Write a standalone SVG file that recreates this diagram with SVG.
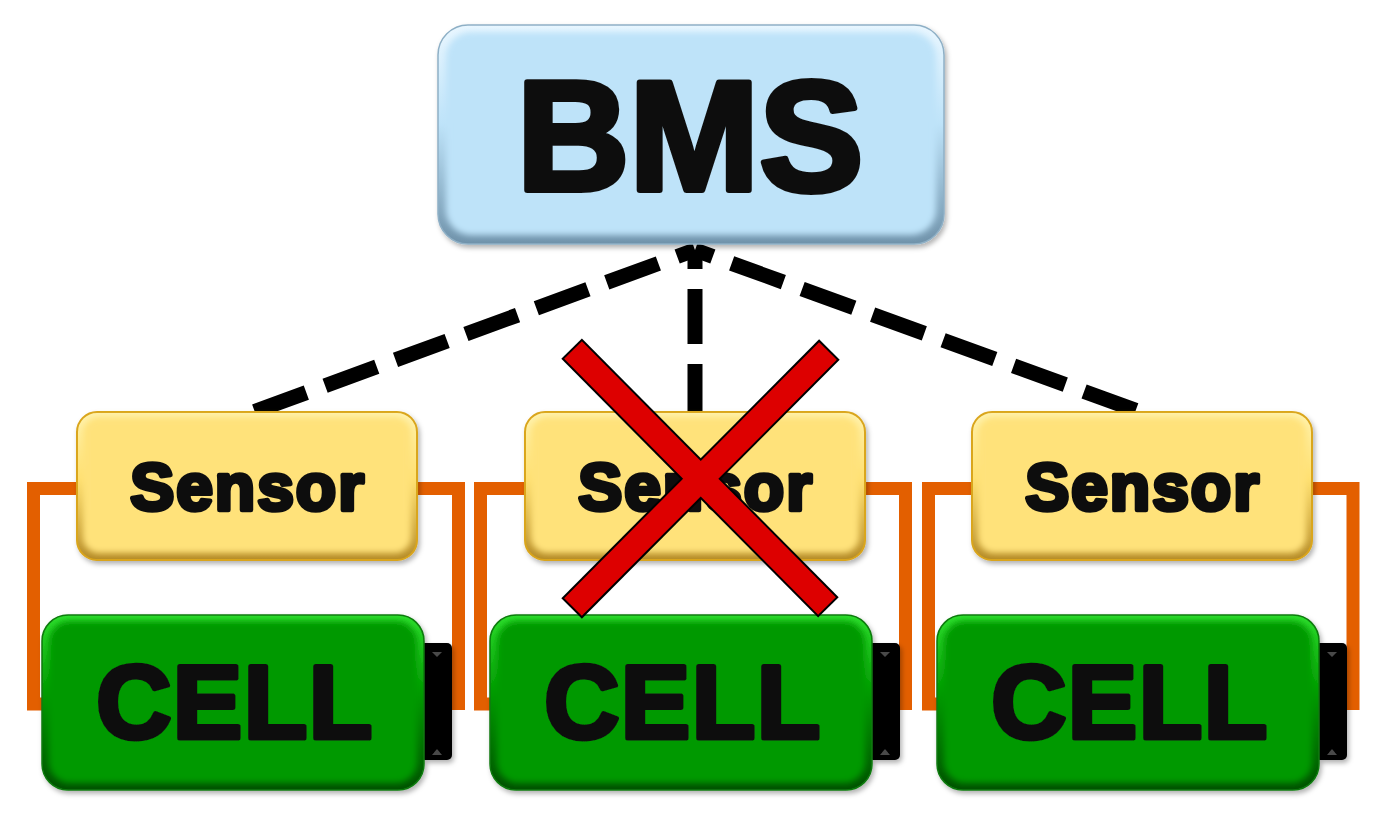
<svg xmlns="http://www.w3.org/2000/svg" width="1389" height="824" viewBox="0 0 1389 824">
  <defs>
    <linearGradient id="gBms" x1="0" y1="0" x2="0" y2="1">
      <stop offset="0" stop-color="#EAF7FF"/>
      <stop offset="0.45" stop-color="#BEE3F9"/>
      <stop offset="1" stop-color="#6F92AA"/>
    </linearGradient>
    <linearGradient id="gSen" x1="0" y1="0" x2="0" y2="1">
      <stop offset="0" stop-color="#FFF3B0"/>
      <stop offset="0.45" stop-color="#FFE070"/>
      <stop offset="1" stop-color="#B48A26"/>
    </linearGradient>
    <linearGradient id="gCell" x1="0" y1="0" x2="0" y2="1">
      <stop offset="0" stop-color="#2EE02E"/>
      <stop offset="0.45" stop-color="#009A00"/>
      <stop offset="1" stop-color="#005000"/>
    </linearGradient>
    <filter id="soft" x="-10%" y="-10%" width="120%" height="120%">
      <feGaussianBlur stdDeviation="3"/>
    </filter>
    <filter id="shadow" x="-10%" y="-10%" width="120%" height="130%">
      <feDropShadow dx="2" dy="3" stdDeviation="2.5" flood-color="#000" flood-opacity="0.3"/>
    </filter>
    <style>
      .bmsBase { fill: url(#gBms); stroke: #8FB0C6; stroke-width: 1.5; }
      .bmsIn { fill: #BEE3F9; filter: url(#soft); }
      .senBase { fill: url(#gSen); stroke: #D9A41A; stroke-width: 2; }
      .senIn { fill: #FFE27A; filter: url(#soft); }
      .cellBase { fill: url(#gCell); stroke: #0B7A0B; stroke-width: 1.5; }
      .cellIn { fill: #009900; filter: url(#soft); }
      .term { fill: #000; }
      .termMark { fill: #4A4A4A; }
      .lbl { font-family: "Liberation Sans", Arial, sans-serif; font-weight: bold; fill: #111; stroke: #111; stroke-linejoin: round; text-anchor: middle; }
      .bmsT { font-size: 156px; stroke-width: 6; }
      .senT { font-size: 66px; stroke-width: 4.5; letter-spacing: 2px; }
      .cellT { font-size: 104px; stroke-width: 5; letter-spacing: 1.5px; }
      .dash { fill: none; stroke: #000; stroke-width: 15; stroke-dasharray: 55 20; stroke-dashoffset: 36; }
      .wire { fill: none; stroke: #E35F00; stroke-width: 13; stroke-linejoin: miter; }
      .xOut { stroke: #000; stroke-width: 29; }
      .xIn { stroke: #DD0000; stroke-width: 25; }
    </style>
  </defs>

  <rect width="1389" height="824" fill="#FFFFFF"/>

  <g id="connectors">
    <line class="dash" x1="695" y1="250" x2="248" y2="414"/>
    <line class="dash" x1="695" y1="250" x2="695" y2="414"/>
    <line class="dash" x1="695" y1="250" x2="1146" y2="414"/>
    <path class="wire" d="M77,488.5 H33.5 V704 H44"/>
    <path class="wire" d="M417,488.5 H458.5 V710"/>
    <path class="wire" d="M525,488.5 H480.5 V704 H492"/>
    <path class="wire" d="M864,488.5 H905.5 V710"/>
    <path class="wire" d="M972,488.5 H928.5 V704 H939"/>
    <path class="wire" d="M1312,488.5 H1353 V710"/>
  </g>

  <g id="bms" filter="url(#shadow)">
    <rect class="bmsBase" x="438" y="25" width="506" height="219" rx="30"/>
    <rect class="bmsIn" x="446" y="32" width="490" height="203" rx="25"/>
    <text class="lbl bmsT" x="690" y="190">BMS</text>
  </g>

  <g id="sensor1" filter="url(#shadow)">
    <rect class="senBase" x="77" y="412" width="340" height="148" rx="20"/>
    <rect class="senIn" x="83" y="417" width="328" height="136" rx="16"/>
    <text class="lbl senT" x="248" y="510">Sensor</text>
  </g>
  <g id="sensor2" filter="url(#shadow)">
    <rect class="senBase" x="525" y="412" width="340" height="148" rx="20"/>
    <rect class="senIn" x="531" y="417" width="328" height="136" rx="16"/>
    <text class="lbl senT" x="696" y="510">Sensor</text>
  </g>
  <g id="sensor3" filter="url(#shadow)">
    <rect class="senBase" x="972" y="412" width="340" height="148" rx="20"/>
    <rect class="senIn" x="978" y="417" width="328" height="136" rx="16"/>
    <text class="lbl senT" x="1143" y="510">Sensor</text>
  </g>

  <g id="cell1" filter="url(#shadow)">
    <rect class="term" x="420" y="643" width="32" height="117" rx="5"/>
    <polygon class="termMark" points="432,652 442,652 437,657"/>
    <polygon class="termMark" points="432,755 442,755 437,749"/>
    <rect class="cellBase" x="42" y="615" width="382" height="175" rx="26"/>
    <rect class="cellIn" x="49" y="621" width="368" height="162" rx="21"/>
    <text class="lbl cellT" x="235" y="738">CELL</text>
  </g>
  <g id="cell2" filter="url(#shadow)">
    <rect class="term" x="868" y="643" width="32" height="117" rx="5"/>
    <polygon class="termMark" points="880,652 890,652 885,657"/>
    <polygon class="termMark" points="880,755 890,755 885,749"/>
    <rect class="cellBase" x="490" y="615" width="382" height="175" rx="26"/>
    <rect class="cellIn" x="497" y="621" width="368" height="162" rx="21"/>
    <text class="lbl cellT" x="683" y="738">CELL</text>
  </g>
  <g id="cell3" filter="url(#shadow)">
    <rect class="term" x="1315" y="643" width="32" height="117" rx="5"/>
    <polygon class="termMark" points="1327,652 1337,652 1332,657"/>
    <polygon class="termMark" points="1327,755 1337,755 1332,749"/>
    <rect class="cellBase" x="937" y="615" width="382" height="175" rx="26"/>
    <rect class="cellIn" x="944" y="621" width="368" height="162" rx="21"/>
    <text class="lbl cellT" x="1130" y="738">CELL</text>
  </g>

  <g id="cross">
    <line class="xOut" x1="571.6" y1="348.6" x2="828.4" y2="607.4"/>
    <line class="xOut" x1="829.4" y1="349.6" x2="571.6" y2="608.4"/>
    <line class="xIn" x1="573" y1="350" x2="827" y2="606"/>
    <line class="xIn" x1="828" y1="351" x2="573" y2="607"/>
  </g>
</svg>
